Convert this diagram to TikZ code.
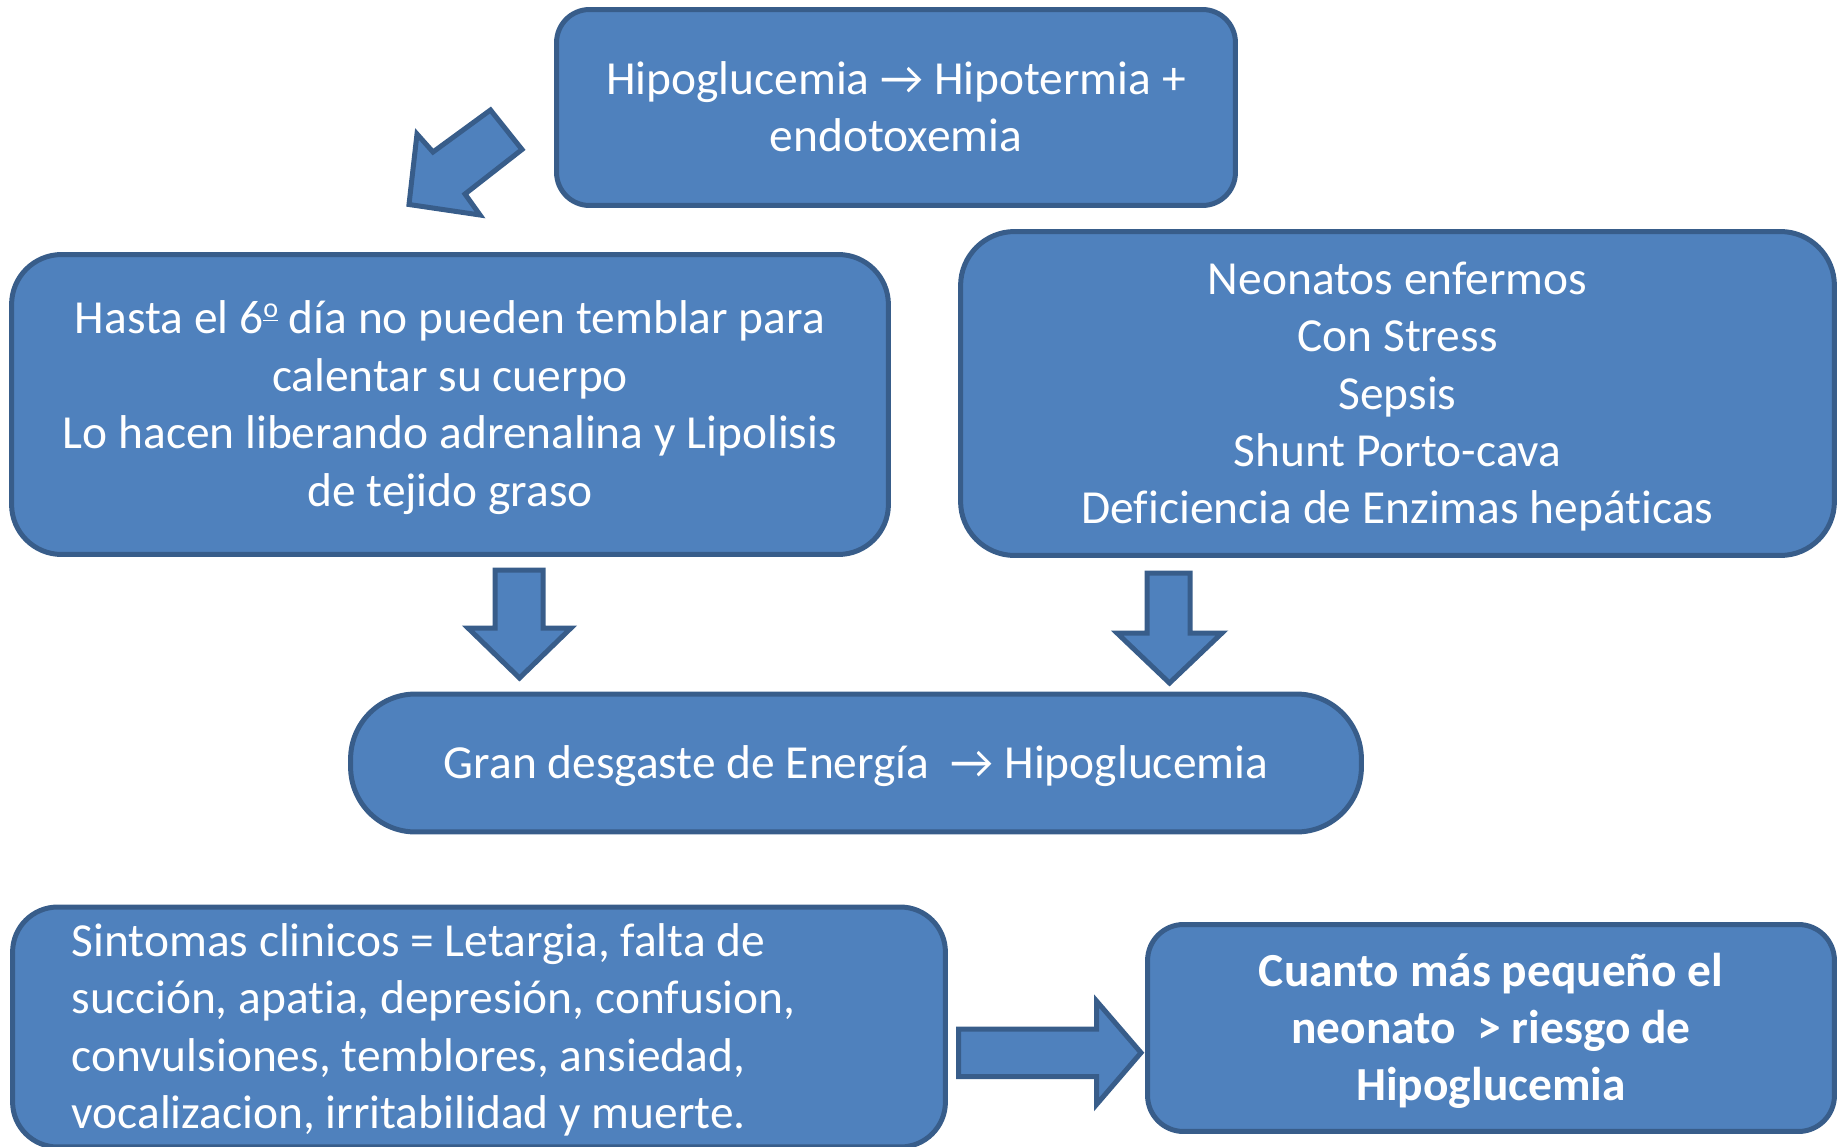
\documentclass[tikz,border=0pt]{standalone}
\usepackage{fontspec}
\setmainfont{Carlito}[Ligatures={NoCommon}]
\definecolor{boxfill}{HTML}{4F81BD}
\definecolor{boxline}{HTML}{385D8A}
\newcommand{\ls}{\rule[-0.23\baselineskip]{0pt}{\baselineskip}}
\newcommand{\ordo}{\raisebox{0.34em}{\fontsize{16}{16}\selectfont\underline{o}}}
\tikzset{
  box/.style={draw=boxline, fill=boxfill, line width=0.1cm, text=white,
    font=\fontsize{27}{32.7}\selectfont, align=center, inner sep=0pt},
  blockarrow/.style={draw=boxline, fill=boxfill, line width=0.1cm, line join=miter}
}
\begin{document}
\begin{tikzpicture}[x=0.02cm, y=-0.02cm]
            \useasboundingbox (0,0) rectangle (1839,1146);
            \node[box, minimum width=13.58cm, minimum height=3.92cm, rounded corners=0.66cm] (hipo) at (896,107.5)
              {\ls Hipoglucemia → Hipotermia +\\ endotoxemia\ls};
            \node[box, minimum width=17.54cm, minimum height=6cm, rounded corners=1cm] (temblar) at (450,404.5)
              {\ls Hasta el 6\ordo{} día no pueden temblar para\\ calentar su cuerpo\\ Lo hacen liberando adrenalina y Lipolisis\\ de tejido graso\ls};
            \node[box, minimum width=17.48cm, minimum height=6.48cm, rounded corners=1.08cm] (neonatos) at (1397.5,393.5)
              {\ls Neonatos enfermos\\ Con Stress\\ Sepsis\\ Shunt Porto-cava\\ Deficiencia de Enzimas hepáticas\ls};
            \node[box, minimum width=20.22cm, minimum height=2.76cm, rounded corners=1.3cm] (desgaste) at (856,763)
              {\ls Gran desgaste de Energía \ → Hipoglucemia\ls};
            \node[box, minimum width=18.66cm, minimum height=4.8cm, rounded corners=0.9cm, text width=16.3cm, align=flush left] (sintomas) at (479,1027)
              {\ls Sintomas clinicos = Letargia, falta de\\ succión, apatia, depresión, confusion,\\ convulsiones, temblores, ansiedad,\\ vocalizacion, irritabilidad y muerte.\ls};
            \node[box, minimum width=13.74cm, minimum height=4.14cm, rounded corners=0.72cm, font=\fontsize{27}{32.7}\selectfont\bfseries] (riesgo) at (1491,1028)
              {\ls Cuanto más pequeño el\\ neonato \ > riesgo de\\ Hipoglucemia\ls};
            \draw[blockarrow] (490.5,110) -- (522,149.5) -- (465,194) -- (480,215) -- (409,204.5) -- (417,134) -- (433,152) -- cycle;
            \draw[blockarrow] (495,570) -- (543,570) -- (543,628) -- (571,628) -- (519.5,678) -- (468,628) -- (495,628) -- cycle;
            \draw[blockarrow] (1147,573) -- (1190,573) -- (1190,633) -- (1222,633) -- (1169.5,683) -- (1117,633) -- (1147,633) -- cycle;
            \draw[blockarrow] (958.5,1029) -- (1096.5,1029) -- (1096.5,1001) -- (1141,1052.7) -- (1096.5,1104.5) -- (1096.5,1076.5) -- (958.5,1076.5) -- cycle;
        \end{tikzpicture}
\end{document}
